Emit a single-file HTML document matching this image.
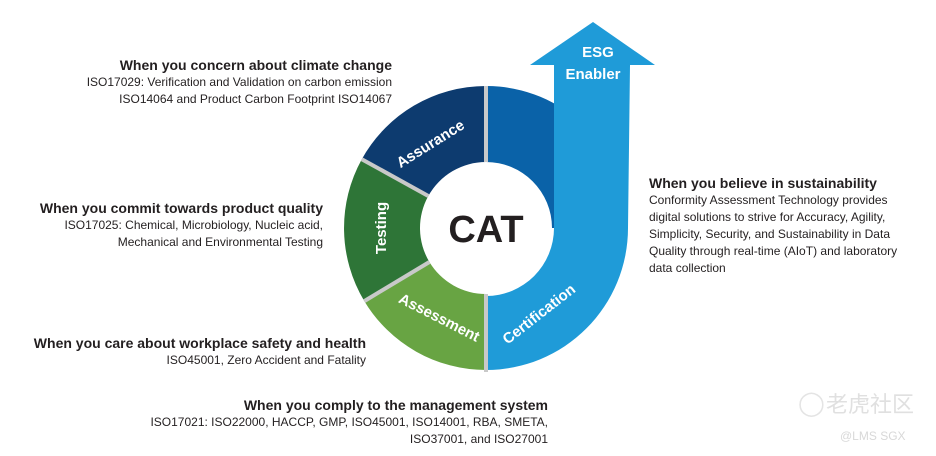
<!DOCTYPE html>
<html><head><meta charset="utf-8"><style>
body{margin:0;width:936px;height:456px;background:#fff;overflow:hidden;position:relative;font-family:"Liberation Sans",sans-serif;color:#231f20}
.b{position:absolute;font-size:12px;line-height:17px}
.b b{font-size:14px;display:block;line-height:18px}
.r{text-align:right}
</style></head><body>
<svg width="936" height="456" style="position:absolute;left:0;top:0">
<path d="M486,86 A142,142 0 0 0 361.8,159.2 L428.3,196 A66,66 0 0 1 486,162 Z" fill="#0d3b6f"/>
<path d="M361.8,159.2 A142,142 0 0 0 364.3,301.1 L429.4,262 A66,66 0 0 1 428.3,196 Z" fill="#2e7537"/>
<path d="M364.3,301.1 A142,142 0 0 0 486,370 L486,294 A66,66 0 0 1 429.4,262 Z" fill="#68a443"/>
<path d="M486,86 A142,142 0 0 1 628,228 L552,228 A66,66 0 0 0 486,162 Z" fill="#0a62a8"/>
<path d="M486,370 A142,142 0 0 0 628,228 L630,65 L655,65 L593,22 L530,65 L554,65 L554,228 A68,68 0 0 1 486,296 Z" fill="#1f9bd8"/>
<g stroke="#c9c9c9" stroke-width="4">
<line x1="361.8" y1="159.2" x2="428.3" y2="196"/>
<line x1="364.3" y1="301.1" x2="429.4" y2="262"/>
<line x1="486" y1="86" x2="486" y2="162"/>
<line x1="486" y1="294" x2="486" y2="372"/>
</g>
<text x="486" y="242" text-anchor="middle" font-size="38" font-weight="bold" fill="#231f20">CAT</text>
<g fill="#fff" font-weight="bold" font-size="15" text-anchor="middle">
<text transform="translate(433,148) rotate(-32)">Assurance</text>
<text transform="translate(386,228) rotate(-90)">Testing</text>
<text transform="translate(437,322) rotate(27)">Assessment</text>
<text transform="translate(542,318) rotate(-38)">Certification</text>
<text x="598" y="57">ESG</text>
<text x="593" y="79">Enabler</text>
</g>
<text x="798" y="411" font-size="24" fill="#e4e4e4">◯</text>
<text x="826" y="412" font-size="22" fill="#e0e0e0" font-family="Noto Sans CJK SC,sans-serif">老虎社区</text>
<text x="840" y="440" font-size="12" fill="#d8d8d8">@LMS SGX</text>
</svg>
<div class="b r" style="right:544px;top:56px"><b>When you concern about climate change</b>ISO17029: Verification and Validation on carbon emission<br>ISO14064 and Product Carbon Footprint ISO14067</div>
<div class="b r" style="right:613px;top:199px"><b>When you commit towards product quality</b>ISO17025: Chemical, Microbiology, Nucleic acid,<br>Mechanical and Environmental Testing</div>
<div class="b r" style="right:570px;top:334px"><b>When you care about workplace safety and health</b>ISO45001, Zero Accident and Fatality</div>
<div class="b r" style="right:388px;top:396px"><b>When you comply to the management system</b>ISO17021: ISO22000, HACCP, GMP, ISO45001, ISO14001, RBA, SMETA,<br>ISO37001, and ISO27001</div>
<div class="b" style="left:649px;top:174px"><b>When you believe in sustainability</b>Conformity Assessment Technology provides<br>digital solutions to strive for Accuracy, Agility,<br>Simplicity, Security, and Sustainability in Data<br>Quality through real-time (AIoT) and laboratory<br>data collection</div>
</body></html>
